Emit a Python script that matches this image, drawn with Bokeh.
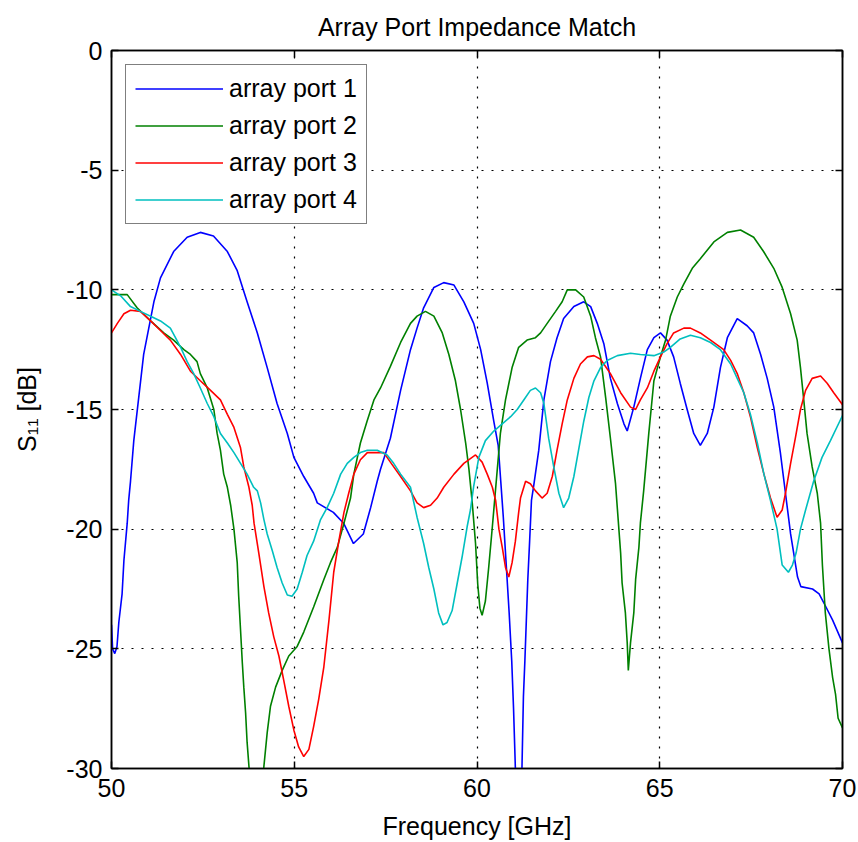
from bokeh.plotting import figure
from bokeh.models import FixedTicker, LinearAxis, Range1d, Legend, LegendItem
from bokeh.embed import file_html
from bokeh.resources import INLINE

# ---------------- data ----------------
title_text = "Array Port Impedance Match"
x_label = "Frequency [GHz]"
y_label = "S\u2081\u2081 [dB]"
series_names = ["array port 1", "array port 2", "array port 3", "array port 4"]
series_colors = ["#0000ff", "#008000", "#ff0000", "#00bfbf"]

x_ticks = [50, 55, 60, 65, 70]
x_tick_labels = ["50", "55", "60", "65", "70"]
y_ticks = [0, -5, -10, -15, -20, -25, -30]
y_tick_labels = ["0", "-5", "-10", "-15", "-20", "-25", "-30"]

f1 = [50.00, 50.03, 50.09, 50.15, 50.20, 50.29, 50.34, 50.43, 50.47, 50.52,
      50.61, 50.88, 51.16, 51.34, 51.70, 52.07, 52.43, 52.79, 53.17, 53.44,
      53.71, 53.99, 54.26, 54.53, 54.81, 54.99, 55.26, 55.53, 55.63, 56.07,
      56.35, 56.62, 56.89, 57.09, 57.27, 57.36, 57.63, 57.91, 58.18, 58.36,
      58.54, 58.82, 59.09, 59.37, 59.64, 59.91, 60.10, 60.28, 60.46, 60.58,
      60.65, 60.72, 60.80, 60.88, 60.95, 61.00, 61.05, 61.14, 61.23, 61.27,
      61.31, 61.35, 61.39, 61.44, 61.49, 61.55, 61.69, 61.83, 62.01, 62.19,
      62.37, 62.65, 62.92, 63.11, 63.29, 63.47, 63.65, 63.84, 64.02, 64.11,
      64.29, 64.47, 64.66, 64.84, 65.02, 65.20, 65.38, 65.56, 65.75, 65.93,
      66.11, 66.30, 66.48, 66.66, 66.85, 67.12, 67.39, 67.57, 67.76, 67.94,
      68.12, 68.30, 68.44, 68.58, 68.77, 68.86, 69.18, 69.36, 69.53, 69.73, 70.00]
s1 = [-24.0, -25.0, -25.2, -24.9, -23.9, -22.7, -21.3, -19.75, -18.8, -18.0,
      -16.3, -12.7, -10.5, -9.5, -8.4, -7.8, -7.6, -7.75, -8.4, -9.2,
      -10.5, -11.8, -13.25, -14.75, -16.0, -17.0, -17.8, -18.5, -18.9, -19.3,
      -19.75, -20.6, -20.2, -19.1, -18.0, -17.5, -16.2, -14.2, -12.5, -11.6,
      -10.75, -9.9, -9.7, -9.8, -10.5, -11.4, -12.5, -13.9, -15.5, -16.5,
      -18.0, -19.5, -21.5, -23.5, -25.5, -27.5, -30.0, -34.0, -30.0, -27.0,
      -25.5, -23.8, -22.1, -20.5, -18.8, -18.2, -16.7, -14.6, -13.0, -12.0,
      -11.2, -10.7, -10.5, -10.7, -11.4, -12.25, -13.7, -14.75, -15.6, -15.9,
      -14.9, -13.7, -12.5, -12.0, -11.8, -12.1, -12.8, -13.9, -15.0, -16.0,
      -16.5, -16.0, -14.9, -13.25, -12.0, -11.2, -11.5, -11.8, -12.7, -13.7,
      -14.9, -16.8, -18.5, -20.2, -22.0, -22.4, -22.5, -22.7, -23.2, -23.8, -24.75]

f2 = [50.00, 50.43, 50.70, 51.07, 51.43, 51.70, 51.98, 52.16, 52.34, 52.43,
      52.62, 52.80, 52.89, 52.98, 53.07, 53.17, 53.26, 53.35, 53.44, 53.48,
      53.53, 53.58, 53.62, 53.67, 53.71, 53.76, 53.96, 54.17, 54.26, 54.35,
      54.49, 54.67, 54.85, 55.08, 55.26, 55.53, 55.81, 55.99, 56.18, 56.36,
      56.54, 56.63, 56.81, 56.99, 57.18, 57.36, 57.63, 57.91, 58.18, 58.36,
      58.59, 58.82, 59.05, 59.23, 59.41, 59.55, 59.69, 59.78, 59.87, 59.96,
      60.02, 60.08, 60.14, 60.23, 60.32, 60.42, 60.51, 60.64, 60.78, 60.96,
      61.14, 61.37, 61.60, 61.74, 61.92, 62.15, 62.33, 62.47, 62.70, 62.92,
      63.11, 63.24, 63.38, 63.52, 63.65, 63.79, 63.93, 63.97, 64.06, 64.11,
      64.14, 64.20, 64.29, 64.34, 64.43, 64.47, 64.56, 64.70, 64.84, 65.02,
      65.16, 65.29, 65.48, 65.66, 65.89, 66.11, 66.48, 66.85, 67.21, 67.57,
      67.84, 68.12, 68.35, 68.58, 68.76, 68.85, 68.94, 69.03, 69.17, 69.31,
      69.40, 69.45, 69.53, 69.63, 69.73, 69.81, 69.88, 70.00]
s2 = [-10.2, -10.2, -10.75, -11.3, -11.8, -12.1, -12.5, -12.7, -13.0, -13.5,
      -14.1, -15.0, -16.0, -16.7, -17.7, -18.25, -19.0, -20.0, -21.4, -22.8,
      -24.2, -25.6, -26.6, -27.7, -28.9, -29.9, -33.5, -29.9, -28.5, -27.4,
      -26.6, -25.9, -25.3, -24.9, -24.3, -23.25, -22.1, -21.4, -20.75, -19.75,
      -18.7, -17.7, -16.4, -15.5, -14.6, -14.1, -13.2, -12.2, -11.4, -11.1,
      -10.9, -11.1, -11.8, -12.7, -13.8, -15.0, -16.4, -17.5, -18.9, -20.6,
      -22.3, -23.3, -23.6, -23.0, -21.6, -19.9, -18.3, -16.0, -14.6, -13.25,
      -12.4, -12.1, -12.0, -11.8, -11.4, -10.9, -10.5, -10.0, -10.0, -10.3,
      -11.1, -12.0, -12.8, -14.5, -16.2, -18.1, -21.0, -22.25, -23.5, -24.75,
      -25.9, -24.75, -23.5, -22.1, -20.75, -19.75, -18.4, -16.0, -13.8, -12.8,
      -12.1, -11.1, -10.3, -9.75, -9.1, -8.7, -8.0, -7.6, -7.5, -7.8,
      -8.4, -9.1, -9.9, -11.0, -12.1, -13.25, -14.6, -16.0, -17.4, -18.5,
      -19.75, -21.5, -23.5, -25.0, -26.2, -26.9, -27.9, -28.3]

f3 = [50.00, 50.16, 50.34, 50.52, 50.79, 51.07, 51.34, 51.61, 51.89, 52.16,
      52.43, 52.71, 52.98, 53.17, 53.35, 53.53, 53.62, 53.76, 53.85, 53.90,
      54.03, 54.17, 54.30, 54.44, 54.58, 54.71, 54.85, 54.99, 55.12, 55.26,
      55.40, 55.53, 55.67, 55.81, 55.95, 56.08, 56.22, 56.36, 56.49, 56.63,
      56.81, 57.00, 57.18, 57.45, 57.63, 57.91, 58.18, 58.36, 58.54, 58.73,
      58.91, 59.09, 59.37, 59.64, 59.96, 60.14, 60.28, 60.42, 60.51, 60.60,
      60.69, 60.78, 60.87, 60.96, 61.05, 61.14, 61.19, 61.33, 61.46, 61.60,
      61.78, 61.92, 62.06, 62.19, 62.33, 62.47, 62.65, 62.83, 63.02, 63.20,
      63.38, 63.65, 63.93, 64.20, 64.34, 64.47, 64.66, 64.84, 65.02, 65.20,
      65.38, 65.66, 65.84, 66.11, 66.39, 66.57, 66.75, 66.94, 67.12, 67.30,
      67.48, 67.67, 67.85, 68.03, 68.21, 68.35, 68.44, 68.58, 68.71, 68.85,
      68.99, 69.17, 69.40, 69.58, 69.76, 70.00]
s3 = [-11.8, -11.4, -11.0, -10.85, -10.9, -11.3, -11.7, -12.1, -12.7, -13.4,
      -13.8, -14.2, -14.6, -15.2, -15.75, -16.6, -17.4, -18.25, -19.0, -19.75,
      -21.0, -22.4, -23.5, -24.5, -25.3, -26.3, -27.4, -28.4, -29.1, -29.5,
      -29.2, -28.25, -27.1, -25.75, -23.8, -21.8, -20.5, -19.3, -18.5, -17.7,
      -17.1, -16.8, -16.8, -16.8, -17.2, -17.8, -18.4, -18.9, -19.1, -19.0,
      -18.7, -18.25, -17.7, -17.25, -16.9, -17.2, -17.7, -18.25, -18.8, -20.0,
      -20.75, -21.6, -22.0, -21.4, -20.5, -19.3, -18.7, -18.0, -18.1, -18.4,
      -18.7, -18.5, -17.8, -16.7, -15.6, -14.6, -13.7, -13.1, -12.8, -12.75,
      -12.9, -13.5, -14.3, -14.9, -15.0, -14.6, -14.1, -13.4, -12.8, -12.25,
      -11.8, -11.6, -11.6, -11.8, -12.1, -12.3, -12.5, -12.95, -13.5, -14.3,
      -15.3, -16.6, -17.7, -18.7, -19.5, -19.2, -18.5, -17.25, -16.2, -15.0,
      -14.2, -13.7, -13.6, -13.9, -14.3, -14.8]

f4 = [50.00, 50.25, 50.52, 50.79, 51.07, 51.34, 51.61, 51.75, 51.89, 52.07,
      52.25, 52.43, 52.62, 52.80, 52.98, 53.17, 53.35, 53.53, 53.71, 53.89,
      53.99, 54.08, 54.17, 54.26, 54.40, 54.53, 54.67, 54.81, 54.94, 55.08,
      55.22, 55.35, 55.53, 55.72, 55.90, 56.08, 56.27, 56.45, 56.63, 56.81,
      57.00, 57.27, 57.54, 57.72, 57.91, 58.18, 58.36, 58.54, 58.68, 58.82,
      58.95, 59.07, 59.18, 59.32, 59.46, 59.60, 59.73, 59.82, 59.91, 60.05,
      60.23, 60.46, 60.69, 60.92, 61.10, 61.28, 61.46, 61.60, 61.74, 61.83,
      61.96, 62.10, 62.24, 62.37, 62.51, 62.65, 62.79, 62.92, 63.06, 63.20,
      63.38, 63.56, 63.84, 64.20, 64.47, 64.84, 65.11, 65.29, 65.56, 65.84,
      66.11, 66.39, 66.66, 66.94, 67.12, 67.30, 67.48, 67.67, 67.85, 68.03,
      68.21, 68.35, 68.52, 68.63, 68.73, 68.85, 68.99, 69.21, 69.44, 69.67, 70.00]
s4 = [-10.0, -10.25, -10.7, -10.9, -11.1, -11.3, -11.6, -12.0, -12.4, -13.0,
      -13.5, -14.1, -14.75, -15.3, -16.0, -16.4, -16.8, -17.25, -17.7, -18.25,
      -18.4, -18.9, -19.6, -20.2, -20.9, -21.6, -22.25, -22.75, -22.8, -22.5,
      -21.8, -21.1, -20.5, -19.6, -19.1, -18.5, -17.7, -17.25, -17.0, -16.8,
      -16.7, -16.7, -16.9, -17.25, -17.7, -18.25, -19.5, -20.6, -21.6, -22.5,
      -23.5, -24.0, -23.9, -23.4, -22.25, -21.1, -19.9, -19.2, -18.2, -17.0,
      -16.3, -15.9, -15.6, -15.3, -15.0, -14.6, -14.2, -14.1, -14.3, -14.75,
      -16.2, -17.4, -18.5, -19.1, -18.7, -17.8, -16.6, -15.5, -14.5, -13.8,
      -13.25, -12.95, -12.75, -12.65, -12.7, -12.75, -12.6, -12.4, -12.05, -11.9,
      -12.0, -12.2, -12.5, -13.1, -13.7, -14.3, -15.2, -16.4, -17.7, -18.8,
      -20.0, -21.5, -21.8, -21.5, -21.0, -20.0, -19.2, -18.0, -17.0, -16.3, -15.25]

series_f = [f1, f2, f3, f4]
series_s = [s1, s2, s3, s4]

# ---------------- figure ----------------
FONT = "Liberation Sans"

p = figure(width=858, height=842, output_backend="svg", toolbar_location=None,
           x_range=Range1d(50, 70), y_range=Range1d(-30, 0),
           min_border_left=111, min_border_right=16, min_border_top=49,
           min_border_bottom=74)
p.background_fill_color = "white"
p.border_fill_color = "white"
p.outline_line_color = "black"
p.outline_line_width = 1.5

p.title.text = title_text
p.title.align = "center"
p.title.text_font = FONT
p.title.text_font_size = "25px"
p.title.text_font_style = "normal"
p.title.text_color = "black"
p.title.standoff = 20

for ax, ticks, labels in ((p.xaxis[0], x_ticks, x_tick_labels),
                          (p.yaxis[0], y_ticks, y_tick_labels)):
    ax.ticker = FixedTicker(ticks=ticks)
    ax.major_label_overrides = {t: l for t, l in zip(ticks, labels)}
    ax.major_tick_in = 7
    ax.major_tick_out = 0
    ax.minor_tick_line_color = None
    ax.axis_line_color = "black"
    ax.axis_line_width = 1.5
    ax.major_tick_line_color = "black"
    ax.major_tick_line_width = 1.5
    ax.major_label_text_font = FONT
    ax.major_label_text_font_size = "25px"
    ax.major_label_text_color = "black"
    ax.axis_label_text_font = FONT
    ax.axis_label_text_font_size = "25px"
    ax.axis_label_text_font_style = "normal"
    ax.axis_label_text_color = "black"

p.xaxis[0].axis_label = x_label
p.xaxis[0].major_label_standoff = 10
p.xaxis[0].axis_label_standoff = 12
p.yaxis[0].axis_label = y_label
p.yaxis[0].major_label_standoff = 9
p.yaxis[0].axis_label_standoff = 22

# mirrored axes (box on: inward ticks on top and right, no labels drawn)
for loc, ticks in (("above", x_ticks), ("right", y_ticks)):
    ax = LinearAxis(ticker=FixedTicker(ticks=ticks), major_tick_in=7, major_tick_out=0,
                    minor_tick_line_color=None, axis_line_color="black", axis_line_width=1.5,
                    major_tick_line_color="black", major_tick_line_width=1.5,
                    major_label_text_color=None, major_label_text_font_size="1px",
                    major_label_standoff=0)
    p.add_layout(ax, loc)

p.xgrid.ticker = FixedTicker(ticks=x_ticks)
p.ygrid.ticker = FixedTicker(ticks=y_ticks)
for g in (p.xgrid[0], p.ygrid[0]):
    g.grid_line_color = "black"
    g.grid_line_dash = "2 8"
    g.grid_line_width = 1.2

items = []
for name, color, fx, sy in zip(series_names, series_colors, series_f, series_s):
    r = p.line(fx, sy, line_color=color, line_width=1.6)
    items.append(LegendItem(label=name, renderers=[r]))

legend = Legend(items=items, location="top_left")
legend.margin = 14
legend.padding = 9
legend.spacing = 8
legend.glyph_width = 88
legend.glyph_height = 29
legend.label_height = 29
legend.label_standoff = 6
legend.label_text_font = FONT
legend.label_text_font_size = "25px"
legend.label_text_color = "black"
legend.border_line_color = "black"
legend.border_line_width = 1.5
legend.background_fill_color = "white"
legend.background_fill_alpha = 1.0
p.add_layout(legend, "center")

open("out.html", "w").write(file_html(p, INLINE))
